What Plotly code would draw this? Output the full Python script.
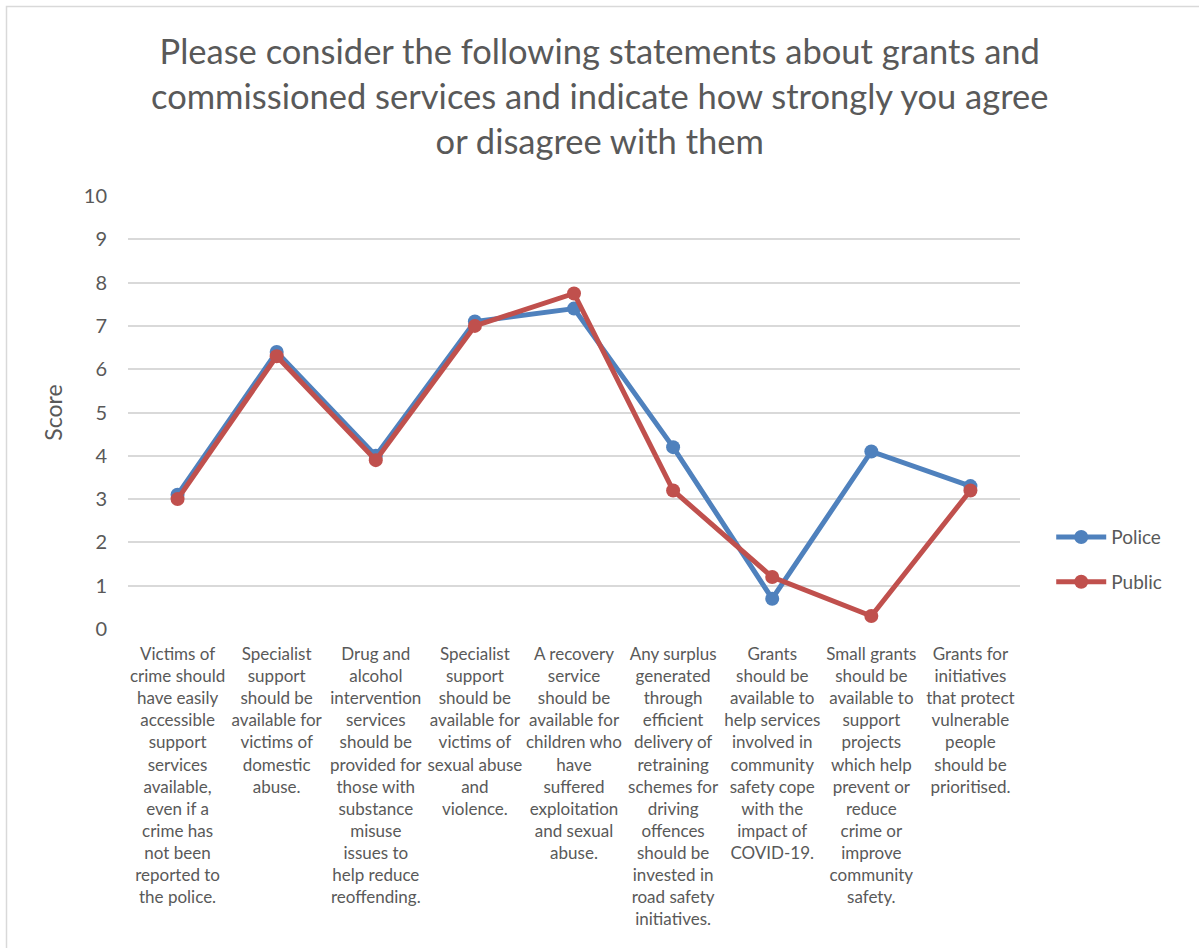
import plotly.graph_objects as go

categories = [
    "Victims of<br>crime should<br>have easily<br>accessible<br>support<br>services<br>available,<br>even if a<br>crime has<br>not been<br>reported to<br>the police.",
    "Specialist<br>support<br>should be<br>available for<br>victims of<br>domestic<br>abuse.",
    "Drug and<br>alcohol<br>intervention<br>services<br>should be<br>provided for<br>those with<br>substance<br>misuse<br>issues to<br>help reduce<br>reoffending.",
    "Specialist<br>support<br>should be<br>available for<br>victims of<br>sexual abuse<br>and<br>violence.",
    "A recovery<br>service<br>should be<br>available for<br>children who<br>have<br>suffered<br>exploitation<br>and sexual<br>abuse.",
    "Any surplus<br>generated<br>through<br>efficient<br>delivery of<br>retraining<br>schemes for<br>driving<br>offences<br>should be<br>invested in<br>road safety<br>initiatives.",
    "Grants<br>should be<br>available to<br>help services<br>involved in<br>community<br>safety cope<br>with the<br>impact of<br>COVID-19.",
    "Small grants<br>should be<br>available to<br>support<br>projects<br>which help<br>prevent or<br>reduce<br>crime or<br>improve<br>community<br>safety.",
    "Grants for<br>initiatives<br>that protect<br>vulnerable<br>people<br>should be<br>prioritised.",
]
police = [3.1, 6.4, 4.0, 7.1, 7.4, 4.2, 0.7, 4.1, 3.3]
public = [3.0, 6.3, 3.9, 7.0, 7.75, 3.2, 1.2, 0.3, 3.2]
y_ticks = [0, 1, 2, 3, 4, 5, 6, 7, 8, 9, 10]
title_text = ("Please consider the following statements about grants and<br>"
              "commissioned services and indicate how strongly you agree<br>"
              "or disagree with them")

FONT = "Lato, 'Open Sans', sans-serif"
GREY = "#595959"

xs = list(range(len(categories)))

fig = go.Figure()
fig.add_trace(go.Scatter(x=xs, y=police, name="Police", mode="lines+markers",
                         legendgroup="police",
                         line=dict(color="#4F81BD", width=5),
                         marker=dict(color="#4F81BD", size=14)))
fig.add_trace(go.Scatter(x=xs, y=public, name="Public", mode="lines+markers",
                         legendgroup="public",
                         line=dict(color="#C0504D", width=5),
                         marker=dict(color="#C0504D", size=14)))

W, H = 1199, 948
L, R, T, B = 128, 179, 196, 319
pw, ph = W - L - R, H - T - B

fig.update_layout(
    width=W, height=H,
    margin=dict(l=L, r=R, t=T, b=B, autoexpand=False),
    paper_bgcolor="white", plot_bgcolor="white",
    font=dict(family=FONT, color=GREY),
    xaxis=dict(
        tickmode="array", tickvals=xs, ticktext=categories,
        range=[-0.5, len(categories) - 0.5],
        showgrid=False, zeroline=False, showline=False, ticks="",
        tickfont=dict(size=17, color=GREY), tickangle=0,
        ticklabelstandoff=13, automargin=False,
    ),
    yaxis=dict(
        range=[0, 10], tickvals=y_ticks,
        showgrid=True, gridcolor="#D9D9D9", gridwidth=2,
        zeroline=False, showline=False, ticks="",
        tickfont=dict(size=20, color=GREY),
        ticklabelstandoff=20, automargin=False,
        title=dict(text="Score", font=dict(size=23, color=GREY), standoff=14),
    ),
    legend=dict(x=1.035, y=0.16, xanchor="left", yanchor="middle",
                font=dict(size=19, color=GREY), tracegroupgap=17,
                itemwidth=50, bgcolor="rgba(0,0,0,0)"),
    showlegend=True,
)

fig.add_annotation(text=title_text, xref="paper", yref="paper",
                   x=(W / 2 - L) / pw, y=(H - B - 96) / ph,
                   xanchor="center", yanchor="middle", showarrow=False,
                   font=dict(size=34.5, color=GREY, family=FONT))

# outer chart border (only left and top edges are visible in the source)
fig.add_shape(type="rect", xref="paper", yref="paper",
              x0=(6.5 - L) / pw, x1=(W + 5 - L) / pw,
              y0=-(B + 5) / ph, y1=1 + (T - 6.5) / ph,
              line=dict(color="#D9D9D9", width=1.5), layer="below")

fig.write_html("out.html", config={"displayModeBar": False},
               post_script="document.body.style.margin='0';document.body.style.padding='0';")
